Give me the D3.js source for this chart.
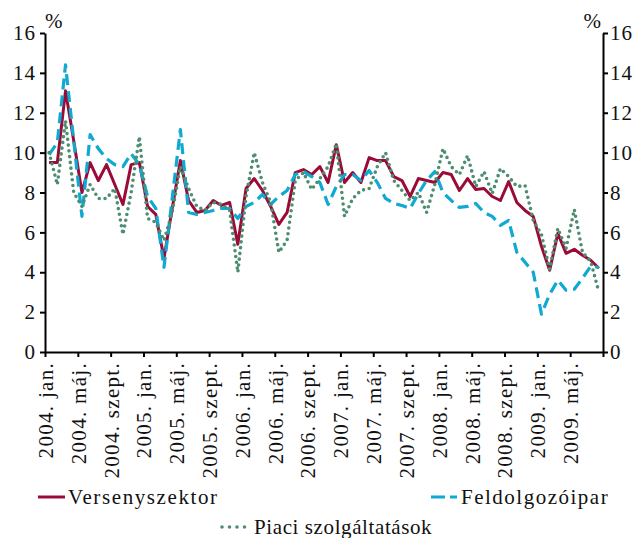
<!DOCTYPE html>
<html>
<head>
<meta charset="utf-8">
<script src="https://cdn.jsdelivr.net/npm/d3@7"></script>
<style>
  body { margin: 0; background: #fff; }
</style>
</head>
<body>
<div class="chart"></div>
<script>
// monthly data, 2004. jan. - 2009. aug.
var years = [2004, 2005, 2006, 2007, 2008, 2009];
var monthNames = ["jan.", "febr.", "márc.", "ápr.", "máj.", "jún.", "júl.", "aug.", "szept.", "okt.", "nov.", "dec."];

var tickLabels = ["2004. jan.", "2004. máj.", "2004. szept.", "2005. jan.", "2005. máj.", "2005. szept.",
  "2006. jan.", "2006. máj.", "2006. szept.", "2007. jan.", "2007. máj.", "2007. szept.",
  "2008. jan.", "2008. máj.", "2008. szept.", "2009. jan.", "2009. máj."];

var yTicks = [0, 2, 4, 6, 8, 10, 12, 14, 16];

var versenyszektor = [9.5, 9.5, 13.1, 10.6, 8.0, 9.5, 8.6, 9.4, 8.4, 7.4,
  9.4, 9.5, 7.3, 6.9, 4.7, 7.2, 9.6, 7.6, 7.0, 7.1,
  7.6, 7.35, 7.5, 5.4, 8.2, 8.7, 8.1, 7.3, 6.4, 7.0,
  9.0, 9.15, 8.9, 9.3, 8.5, 10.4, 8.5, 9.0, 8.5, 9.75,
  9.6, 9.6, 8.8, 8.6, 7.8, 8.7, 8.6, 8.5, 9.0, 8.9,
  8.1, 8.7, 8.15, 8.2, 7.8, 7.6, 8.55, 7.5, 7.1, 6.8,
  5.3, 4.1, 5.95, 4.95, 5.15, 4.85, 4.6, 4.2];

var feldolgozoipar = [9.9, 10.5, 14.4, 10.6, 6.8, 10.9, 10.2, 9.7, 9.4, 9.3,
  9.95, 9.4, 7.8, 7.2, 4.25, 7.7, 11.15, 7.0, 6.9, 7.0,
  7.1, 7.2, 7.2, 6.7, 7.3, 7.5, 7.9, 7.4, 7.8, 8.1,
  8.9, 9.05, 8.8, 8.5, 7.4, 8.3, 8.9, 8.9, 8.6, 9.1,
  8.5, 7.7, 7.45, 7.35, 7.2, 7.95, 8.6, 9.05, 8.0, 7.6,
  7.25, 7.3, 7.45, 7.0, 6.8, 6.35, 6.6, 5.0, 4.5, 4.0,
  1.9, 2.9, 3.6, 3.1, 3.15, 3.7, 4.3, 4.25];

var piaciSzolg = [10.0, 8.4, 11.6, 8.0, 7.3, 8.4, 7.7, 7.7, 8.2, 5.9,
  8.0, 10.8, 6.7, 6.5, 5.6, 7.0, 9.3, 8.2, 7.3, 7.1,
  7.5, 7.4, 7.1, 4.0, 7.8, 10.0, 8.5, 7.5, 5.0, 5.6,
  8.6, 9.0, 8.15, 8.7, 9.3, 10.45, 6.8, 7.7, 8.1, 8.2,
  9.3, 10.0, 8.6, 8.1, 7.6, 8.0, 7.0, 8.4, 10.2, 9.3,
  8.9, 9.85, 8.3, 9.05, 7.95, 9.2, 8.8, 8.3, 8.35, 6.6,
  5.9, 4.15, 6.2, 5.2, 7.15, 5.0, 4.55, 3.0];

var months = [];
years.forEach(function(y) {
  monthNames.forEach(function(m) { months.push(y + ". " + m); });
});
months = months.slice(0, versenyszektor.length);

var svgWidth = 635;
var svgHeight = 538;
var margin = { left: 45, right: 603, top: 33, bottom: 352 };
var fontFamily = "Liberation Serif";
var fontSize = 21;

var svg = d3.select(".chart")
  .append("svg")
  .attr("width", svgWidth)
  .attr("height", svgHeight)
  .attr("font-family", fontFamily)
  .attr("font-size", fontSize);

var x = d3.scaleBand().domain(months).range([margin.left, margin.right]);
var xTick = d3.scaleLinear().domain([0, months.length]).range([margin.left, margin.right]);
var y = d3.scaleLinear().domain([0, 16]).range([margin.bottom, margin.top]);

function styleAxis(g) {
  g.attr("font-family", fontFamily).attr("font-size", fontSize);
  g.select(".domain").attr("stroke", "#000").attr("stroke-width", 2);
  g.selectAll(".tick line").attr("stroke", "#000").attr("stroke-width", 2);
  g.selectAll("text")
    .attr("fill", "#111")
    .attr("letter-spacing", 1);
}

// axes
svg.append("g")
  .attr("transform", `translate(${margin.left}, 0)`)
  .call(d3.axisLeft(y).tickValues(yTicks).tickSize(5).tickSizeOuter(0).tickPadding(4))
  .call(styleAxis);

svg.append("g")
  .attr("transform", `translate(${margin.right}, 0)`)
  .call(d3.axisRight(y).tickValues(yTicks).tickSize(5).tickSizeOuter(0).tickPadding(2))
  .call(styleAxis);

var xAxis = svg.append("g")
  .attr("transform", `translate(0, ${margin.bottom})`)
  .call(d3.axisBottom(xTick)
    .tickValues(d3.range(0, months.length + 1, 4))
    .tickSize(5).tickSizeOuter(0)
    .tickFormat(function(d, i) { return tickLabels[i] || ""; }))
  .call(styleAxis);

xAxis.selectAll("text")
  .attr("transform", "rotate(-90)")
  .attr("x", -10)
  .attr("y", 0)
  .attr("dy", "0.35em")
  .attr("text-anchor", "end")
  .attr("letter-spacing", 1.3);

svg.append("text").attr("x", 45).attr("y", 28).attr("fill", "#111").text("%");
svg.append("text").attr("x", 601).attr("y", 28).attr("fill", "#111").attr("text-anchor", "end").text("%");

// lines
var series = [
  { name: "Versenyszektor", values: versenyszektor, color: "#9b0b37", width: 3, dash: null, cap: "butt" },
  { name: "Feldolgozóipar", values: feldolgozoipar, color: "#0fa9d2", width: 3.2, dash: "11,6", cap: "butt" },
  { name: "Piaci szolgáltatások", values: piaciSzolg, color: "#4d8d70", width: 3.6, dash: "0,5.8", cap: "round" }
];

var line = d3.line()
  .x(function(d, i) { return x(months[i]) + x.bandwidth() / 2; })
  .y(function(d) { return y(d); });

series.forEach(function(s) {
  svg.append("path")
    .datum(s.values)
    .attr("d", line)
    .attr("fill", "none")
    .attr("stroke", s.color)
    .attr("stroke-width", s.width)
    .attr("stroke-dasharray", s.dash)
    .attr("stroke-linecap", s.cap)
    .attr("stroke-linejoin", "round");
});

// legend
var legendPos = [
  { x1: 38, x2: 65, y: 497, tx: 68, ls: 1.6 },
  { x1: 431, x2: 457, y: 497, tx: 461, ls: 1.5 },
  { x1: 222, x2: 247, y: 527, tx: 254, ls: 0.6 }
];

series.forEach(function(s, i) {
  var p = legendPos[i];
  svg.append("line")
    .attr("x1", p.x1).attr("x2", p.x2)
    .attr("y1", p.y).attr("y2", p.y)
    .attr("stroke", s.color)
    .attr("stroke-width", s.width)
    .attr("stroke-dasharray", s.dash ? (i === 1 ? "14,5" : "0,7.5") : null)
    .attr("stroke-linecap", s.cap);
  svg.append("text")
    .attr("x", p.tx)
    .attr("y", p.y + 7)
    .attr("fill", "#111")
    .attr("letter-spacing", p.ls)
    .text(s.name);
});
</script>
</body>
</html>
